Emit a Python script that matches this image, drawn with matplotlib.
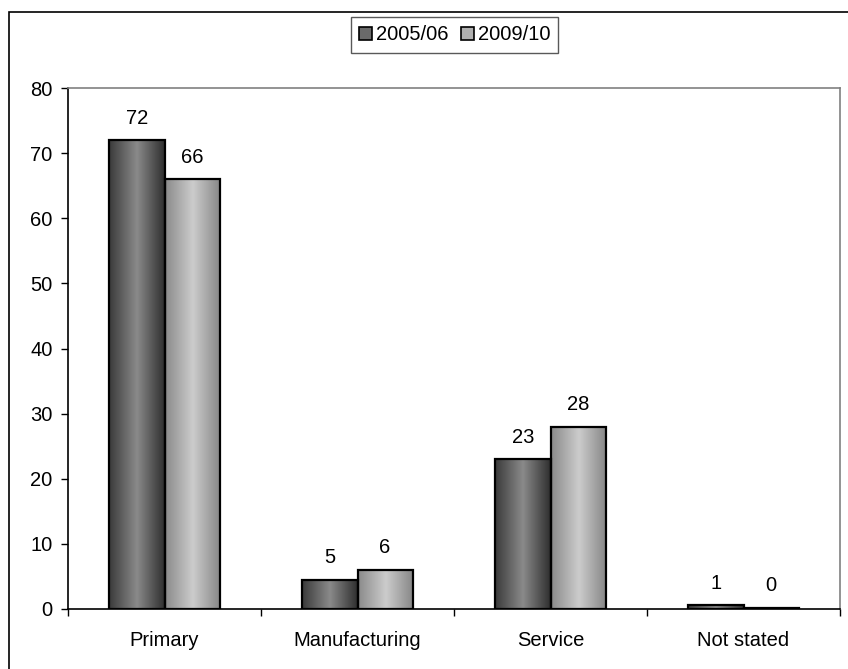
import matplotlib
matplotlib.use("Agg")
import matplotlib.pyplot as plt
import numpy as np
from matplotlib.patches import Rectangle
from matplotlib.colors import LinearSegmentedColormap

plt.rcParams['font.family'] = ['Liberation Sans', 'DejaVu Sans']

categories = ["Primary", "Manufacturing", "Service", "Not stated"]
series_names = ["2005/06", "2009/10"]
values_0506 = [72, 4.5, 23, 0.6]
values_0910 = [66, 6, 28, 0.2]
labels_0506 = ["72", "5", "23", "1"]
labels_0910 = ["66", "6", "28", "0"]
yticks = [0, 10, 20, 30, 40, 50, 60, 70, 80]

FS = 14.5

fig = plt.figure(figsize=(8.48, 6.69), dpi=100)
ax = fig.add_axes([68/848, 1-609/669, (840-68)/848, (609-88)/669])

# outer border
fig.patches.append(Rectangle((9/848, -0.02), 1.1, 1-12/669+0.02, transform=fig.transFigure,
                             fill=False, edgecolor='black', linewidth=1.2))

cmap1 = LinearSegmentedColormap.from_list('s1', ['#3a3a3a', '#8a8a8a', '#2e2e2e'])
cmap2 = LinearSegmentedColormap.from_list('s2', ['#8a8a8a', '#cccccc', '#858585'])
grad = np.linspace(0, 1, 256).reshape(1, -1)

x = np.arange(len(categories))
w = 1/3.5
series = [(values_0506, labels_0506, cmap1, '#6a6a6a'), (values_0910, labels_0910, cmap2, '#b0b0b0')]
for i, (vals, labs, cmap, mid) in enumerate(series):
    offs = x + (i - 0.5) * w
    bars = ax.bar(offs, vals, width=w, color='none', edgecolor='black', linewidth=1.6, zorder=3)
    for b in bars:
        x0, y0 = b.get_x(), b.get_y()
        h = b.get_height()
        im = ax.imshow(grad, cmap=cmap, extent=[x0, x0 + w, y0, y0 + h], aspect='auto', zorder=2,
                       interpolation='bilinear')
        clip = Rectangle((x0, y0), w, h, transform=ax.transData)
        im.set_clip_path(clip)
    ax.bar_label(bars, labels=labs, padding=9, fontsize=FS)

ax.set_xlim(-0.5, 3.5)
ax.set_ylim(0, 80)
ax.set_yticks(yticks)
ax.tick_params(axis='y', direction='out', length=5, width=1, labelsize=FS, pad=6)
ax.set_xticks(x)
ax.set_xticklabels(categories, fontsize=FS)
ax.tick_params(axis='x', which='major', length=0, pad=16)
ax.set_xticks([-0.5, 0.5, 1.5, 2.5, 3.5], minor=True)
ax.tick_params(axis='x', which='minor', direction='out', length=5, width=1)
ax.set_aspect('auto')

ax.spines['left'].set_color('black')
ax.spines['bottom'].set_color('black')
ax.spines['top'].set_color('#808080')
ax.spines['right'].set_color('#808080')
for s in ax.spines.values():
    s.set_linewidth(1.2)

handles = [Rectangle((0, 0), 1, 1, facecolor=series[0][3], edgecolor='black', linewidth=1.2),
           Rectangle((0, 0), 1, 1, facecolor=series[1][3], edgecolor='black', linewidth=1.2)]
leg = fig.legend(handles, series_names, loc='center', bbox_to_anchor=(454.5/848, 1-35/669), ncol=2,
                 fontsize=FS, frameon=True, fancybox=False, edgecolor='#303030',
                 handlelength=0.65, handleheight=0.65, handletextpad=0.2, columnspacing=0.6,
                 borderpad=0.4, borderaxespad=0)
leg.get_frame().set_linewidth(1.0)

fig.savefig("out.png", dpi=100)
